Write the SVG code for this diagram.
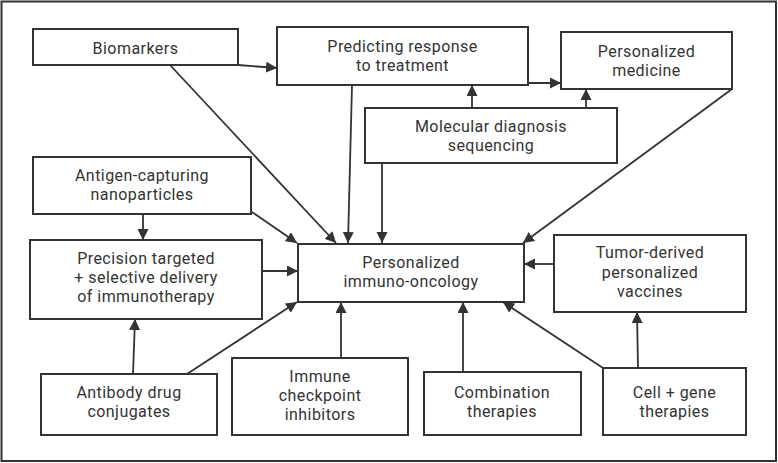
<svg xmlns="http://www.w3.org/2000/svg" width="778" height="463" viewBox="0 0 778 463">
<defs>
<style>
.box{fill:#fff;stroke:#333;stroke-width:2}
.t{font-family:Roboto,"Liberation Sans",sans-serif;font-size:16px;letter-spacing:0.45px;fill:#333;text-anchor:middle}
.c{fill:none;stroke:#333;stroke-width:1.8}
</style>
<marker id="ah" markerUnits="userSpaceOnUse" markerWidth="12" markerHeight="12" refX="11" refY="5.5" orient="auto">
<path d="M0,0 L11,5.5 L0,11 z" fill="#333"/>
</marker>
</defs>
<rect x="0" y="0" width="778" height="463" fill="#fff"/>
<rect x="1.5" y="1.5" width="774.5" height="459.5" fill="none" stroke="#333" stroke-width="2"/>
<g id="connectors">
<line class="c" x1="238" y1="65" x2="277" y2="68" marker-end="url(#ah)"/>
<line class="c" x1="170" y1="65" x2="336" y2="243" marker-end="url(#ah)"/>
<line class="c" x1="352" y1="85" x2="348" y2="243" marker-end="url(#ah)"/>
<line class="c" x1="382" y1="163" x2="382" y2="243" marker-end="url(#ah)"/>
<line class="c" x1="528" y1="83" x2="561" y2="83" marker-end="url(#ah)"/>
<line class="c" x1="472" y1="108" x2="472" y2="85" marker-end="url(#ah)"/>
<line class="c" x1="586" y1="108" x2="586" y2="89" marker-end="url(#ah)"/>
<line class="c" x1="732" y1="89" x2="523" y2="243" marker-end="url(#ah)"/>
<line class="c" x1="143" y1="214" x2="143" y2="240" marker-end="url(#ah)"/>
<line class="c" x1="252" y1="212" x2="297" y2="243" marker-end="url(#ah)"/>
<line class="c" x1="262" y1="271" x2="298" y2="271" marker-end="url(#ah)"/>
<line class="c" x1="133" y1="374" x2="135" y2="319" marker-end="url(#ah)"/>
<line class="c" x1="187" y1="374" x2="297" y2="302" marker-end="url(#ah)"/>
<line class="c" x1="341" y1="358" x2="341" y2="302" marker-end="url(#ah)"/>
<line class="c" x1="463" y1="372" x2="463" y2="302" marker-end="url(#ah)"/>
<line class="c" x1="603" y1="368" x2="503" y2="302" marker-end="url(#ah)"/>
<line class="c" x1="638" y1="368" x2="637" y2="312" marker-end="url(#ah)"/>
<line class="c" x1="554" y1="264" x2="524" y2="264" marker-end="url(#ah)"/>
</g>
<g id="biomarkers">
<rect class="box" x="33" y="29" width="205" height="36"/>
<text class="t" x="135.5" y="54">Biomarkers</text>
</g>
<g id="predicting">
<rect class="box" x="277" y="27" width="251" height="58"/>
<text class="t" x="402.5" y="52">Predicting response</text>
<text class="t" x="402.5" y="71">to treatment</text>
</g>
<g id="personalized-medicine">
<rect class="box" x="561" y="32" width="171" height="57"/>
<text class="t" x="646.5" y="57">Personalized</text>
<text class="t" x="646.5" y="76">medicine</text>
</g>
<g id="molecular">
<rect class="box" x="365" y="108" width="252" height="55"/>
<text class="t" x="491" y="132">Molecular diagnosis</text>
<text class="t" x="491" y="151">sequencing</text>
</g>
<g id="antigen">
<rect class="box" x="33" y="157" width="218" height="57"/>
<text class="t" x="142" y="181">Antigen-capturing</text>
<text class="t" x="142" y="200">nanoparticles</text>
</g>
<g id="precision">
<rect class="box" x="30" y="240" width="232" height="79"/>
<text class="t" x="146" y="264">Precision targeted</text>
<text class="t" x="146" y="283">+ selective delivery</text>
<text class="t" x="146" y="302">of immunotherapy</text>
</g>
<g id="pio">
<rect class="box" x="298" y="244" width="226" height="58"/>
<text class="t" x="411" y="268">Personalized</text>
<text class="t" x="411" y="287">immuno-oncology</text>
</g>
<g id="tumor">
<rect class="box" x="554" y="235" width="192" height="77"/>
<text class="t" x="650" y="258">Tumor-derived</text>
<text class="t" x="650" y="277.5">personalized</text>
<text class="t" x="650" y="297">vaccines</text>
</g>
<g id="antibody">
<rect class="box" x="41" y="374" width="176" height="61"/>
<text class="t" x="129" y="398">Antibody drug</text>
<text class="t" x="129" y="417">conjugates</text>
</g>
<g id="immune">
<rect class="box" x="232" y="358" width="176" height="77"/>
<text class="t" x="320" y="382">Immune</text>
<text class="t" x="320" y="401">checkpoint</text>
<text class="t" x="320" y="420">inhibitors</text>
</g>
<g id="combination">
<rect class="box" x="424" y="372" width="157" height="63"/>
<text class="t" x="502" y="398">Combination</text>
<text class="t" x="502" y="417">therapies</text>
</g>
<g id="cellgene">
<rect class="box" x="603" y="368" width="143" height="67"/>
<text class="t" x="674.5" y="398">Cell + gene</text>
<text class="t" x="674.5" y="417">therapies</text>
</g>
</svg>
